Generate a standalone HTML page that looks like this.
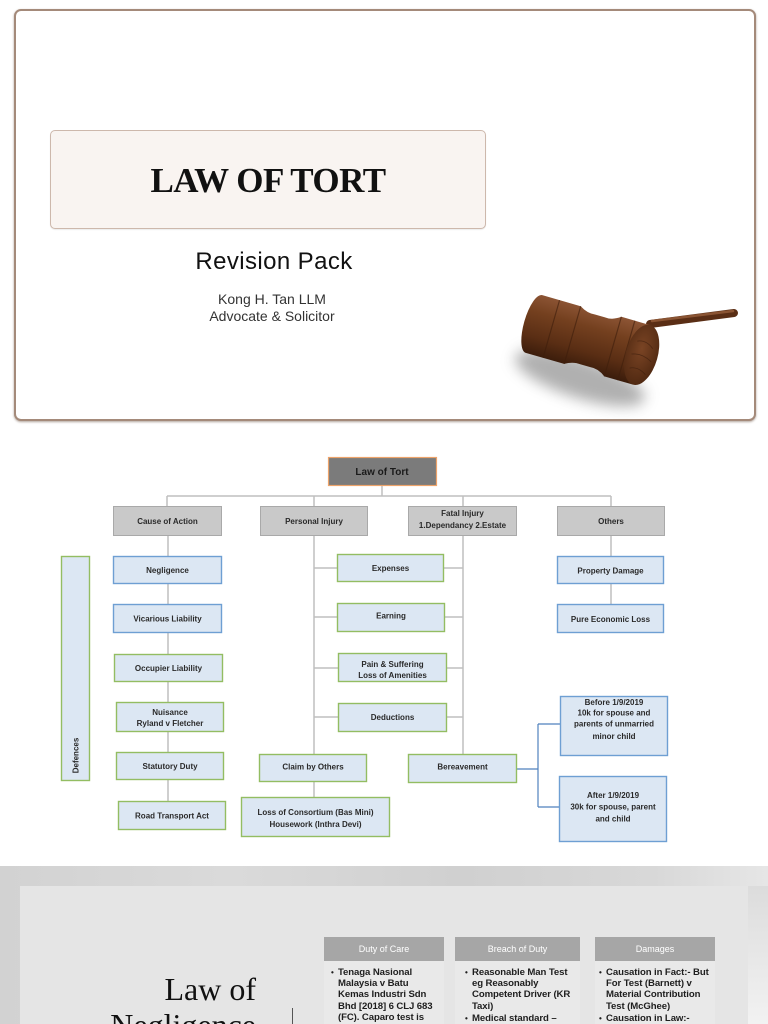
<!DOCTYPE html>
<html>
<head>
<meta charset="utf-8">
<style>
  html,body{margin:0;padding:0;background:#fff;}
  #root{position:relative;width:768px;height:1024px;overflow:hidden;background:#fff;font-family:"Liberation Sans",sans-serif;}
  .abs{position:absolute;}
  .frame{left:14px;top:9px;width:738px;height:408px;border:2px solid #a48a7a;border-radius:7px;box-shadow:0 1px 2px rgba(80,50,30,.45);background:#fff;}
  .titlebox{left:50px;top:130px;width:434px;height:97px;border:1px solid #cdb8ac;border-radius:5px;background:#f9f4f1;box-shadow:0 1px 1px rgba(0,0,0,.08);}
  .title{left:50px;top:131px;width:436px;height:99px;text-align:center;line-height:99px;font-family:"Liberation Serif",serif;font-weight:bold;font-size:35px;color:#111;letter-spacing:-0.5px;}
  .rev{left:74px;top:248px;width:400px;text-align:center;font-size:24px;color:#111;letter-spacing:0.4px;}
  .kong{left:72px;top:291px;width:400px;text-align:center;font-size:14px;line-height:17px;color:#333;}
  .bot{left:0;top:866px;width:768px;height:158px;background:linear-gradient(90deg,#d2d2d2 0%,#dadada 30%,#d0d0d0 60%,#d8d8d8 85%,#e6e6e6 100%);}
  .inner{left:20px;top:886px;width:728px;height:138px;background:#e5e5e5;}
  .rstrip{left:748px;top:886px;width:20px;height:138px;background:linear-gradient(180deg,#dcdcdc,#f2f2f2);}
  .hdr{height:24px;line-height:24px;background:#a6a6a6;color:#fff;font-size:9px;text-align:center;}
  .colbody{background:#e9e9e9;}
  .bul{font-size:9.6px;font-weight:bold;color:#1e1e1e;line-height:11.2px;white-space:nowrap;letter-spacing:-0.1px;}
  .bul .b{position:absolute;left:-7px;font-size:8px;}
  .law{font-family:"Liberation Serif",serif;font-size:32px;line-height:36px;color:#111;text-align:right;}
</style>
</head>
<body>
<div id="root">
  <!-- Slide 1 -->
  <div class="abs frame"></div>
  <div class="abs titlebox"></div>
  <div class="abs title">LAW OF TORT</div>
  <div class="abs rev">Revision Pack</div>
  <div class="abs kong">Kong H. Tan LLM<br>Advocate &amp; Solicitor</div>

  <!-- Gavel -->
  <svg class="abs" style="left:500px;top:280px" width="262" height="140" viewBox="0 0 262 140">
    <defs>
      <filter id="bl" x="-50%" y="-50%" width="200%" height="200%"><feGaussianBlur stdDeviation="7"/></filter>
      <linearGradient id="wood" x1="0" y1="0" x2="0" y2="1">
        <stop offset="0" stop-color="#8d5535"/>
        <stop offset="0.3" stop-color="#74401f"/>
        <stop offset="0.7" stop-color="#5a2e14"/>
        <stop offset="1" stop-color="#3a1c0b"/>
      </linearGradient>
      <radialGradient id="face" cx="0.45" cy="0.4" r="0.7">
        <stop offset="0" stop-color="#7a4424"/>
        <stop offset="1" stop-color="#4a250f"/>
      </radialGradient>
    </defs>
    <ellipse cx="80" cy="98" rx="68" ry="20" transform="rotate(18 80 98)" fill="#707070" opacity="0.55" filter="url(#bl)"/>
    <line x1="150" y1="44" x2="234" y2="33" stroke="#5a2e15" stroke-width="8" stroke-linecap="round"/>
    <line x1="152" y1="41" x2="233" y2="31" stroke="#8a5433" stroke-width="2.5" stroke-linecap="round"/>
    <g transform="translate(34,44) rotate(16)">
      <path d="M0,-30 L40,-30 Q48,-25 56,-26 L66,-26 Q74,-25 82,-31 L112,-31 L112,31 L82,31 Q74,25 66,26 L56,26 Q48,25 40,30 L0,30 A10,30 0 0 1 0,-30 Z" fill="url(#wood)"/>
      <path d="M18,-30 L18,30 M40,-30 L40,30 M82,-31 L82,31 M96,-31 L96,31" stroke="#3e1e0c" stroke-width="1.2" opacity="0.6"/>
      <ellipse cx="112" cy="0" rx="16" ry="31" fill="url(#face)"/>
      <path d="M104,-12 Q112,-16 121,-9 M102,2 Q112,-2 123,4 M104,16 Q112,12 121,18" stroke="#3a1c0b" stroke-width="0.8" fill="none" opacity="0.6"/>
    </g>
  </svg>

  <!-- Diagram -->
  <svg class="abs" style="left:0;top:0" width="768" height="1024" viewBox="0 0 768 1024">
    <g stroke="#bfbfbf" stroke-width="1.5" fill="none">
      <line x1="382" y1="486" x2="382" y2="496"/>
      <line x1="167" y1="496" x2="611" y2="496"/>
      <line x1="167" y1="496" x2="167" y2="506"/>
      <line x1="314" y1="496" x2="314" y2="506"/>
      <line x1="463" y1="496" x2="463" y2="506"/>
      <line x1="611" y1="496" x2="611" y2="506"/>
      <line x1="168" y1="535" x2="168" y2="801"/>
      <line x1="314" y1="535" x2="314" y2="754"/>
      <line x1="314" y1="782" x2="314" y2="797"/>
      <line x1="314" y1="568" x2="337" y2="568"/>
      <line x1="314" y1="617" x2="337" y2="617"/>
      <line x1="314" y1="668" x2="338" y2="668"/>
      <line x1="314" y1="717" x2="338" y2="717"/>
      <line x1="463" y1="535" x2="463" y2="754"/>
      <line x1="444" y1="568" x2="463" y2="568"/>
      <line x1="445" y1="617" x2="463" y2="617"/>
      <line x1="447" y1="668" x2="463" y2="668"/>
      <line x1="447" y1="717" x2="463" y2="717"/>
      <line x1="611" y1="535" x2="611" y2="604"/>
    </g>
    <g stroke="#4f81bd" stroke-width="1.2" fill="none">
      <line x1="517" y1="769" x2="538" y2="769"/>
      <line x1="538" y1="724" x2="538" y2="807"/>
      <line x1="538" y1="724" x2="560" y2="724"/>
      <line x1="538" y1="807" x2="559" y2="807"/>
    </g>

    <!-- boxes -->
    <rect x="328.5" y="457.5" width="108" height="28" fill="#7b7b7b" stroke="#eda36a" stroke-width="1.2"/>
    <g fill="#c9c9c9" stroke="#a9a9a9" stroke-width="1">
      <rect x="113.5" y="506.5" width="108" height="29"/>
      <rect x="260.5" y="506.5" width="107" height="29"/>
      <rect x="408.5" y="506.5" width="108" height="29"/>
      <rect x="557.5" y="506.5" width="107" height="29"/>
    </g>
    <g fill="#dce7f3" stroke="#6e9fd3" stroke-width="1.4">
      <rect x="113.5" y="556.5" width="108" height="27"/>
      <rect x="113.5" y="604.5" width="108" height="28"/>
      <rect x="557.5" y="556.5" width="106" height="27"/>
      <rect x="557.5" y="604.5" width="106" height="28"/>
      <rect x="560.5" y="696.5" width="107" height="59"/>
      <rect x="559.5" y="776.5" width="107" height="65"/>
    </g>
    <g fill="#dce7f3" stroke="#93bd62" stroke-width="1.4">
      <rect x="61.5" y="556.5" width="28" height="224"/>
      <rect x="114.5" y="654.5" width="108" height="27"/>
      <rect x="116.5" y="702.5" width="107" height="29"/>
      <rect x="116.5" y="752.5" width="107" height="27"/>
      <rect x="118.5" y="801.5" width="107" height="28"/>
      <rect x="337.5" y="554.5" width="106" height="27"/>
      <rect x="337.5" y="603.5" width="107" height="28"/>
      <rect x="338.5" y="653.5" width="108" height="28"/>
      <rect x="338.5" y="703.5" width="108" height="28"/>
      <rect x="259.5" y="754.5" width="107" height="27"/>
      <rect x="241.5" y="797.5" width="148" height="39"/>
      <rect x="408.5" y="754.5" width="108" height="28"/>
    </g>

    <g font-family="Liberation Sans, sans-serif" font-weight="bold" font-size="8" fill="#2a2a2a" text-anchor="middle">
      <text x="382" y="475" font-size="10" fill="#1a1a1a">Law of Tort</text>
      <text x="167.5" y="524">Cause of Action</text>
      <text x="314" y="524">Personal Injury</text>
      <text x="462.5" y="516">Fatal Injury</text>
      <text x="462.5" y="528">1.Dependancy 2.Estate</text>
      <text x="611" y="524">Others</text>
      <text x="167.5" y="573">Negligence</text>
      <text x="167.5" y="621.5">Vicarious Liability</text>
      <text x="168.5" y="671">Occupier Liability</text>
      <text x="170" y="715">Nuisance</text>
      <text x="170" y="726">Ryland v Fletcher</text>
      <text x="170" y="769">Statutory Duty</text>
      <text x="172" y="818.5">Road Transport Act</text>
      <text transform="translate(78.5,755.5) rotate(-90)">Defences</text>
      <text x="390.5" y="571">Expenses</text>
      <text x="391" y="618.5">Earning</text>
      <text x="392.5" y="667">Pain &amp; Suffering</text>
      <text x="392.5" y="678">Loss of Amenities</text>
      <text x="392.5" y="720">Deductions</text>
      <text x="313" y="769.5">Claim by Others</text>
      <text x="315.5" y="815">Loss of Consortium (Bas Mini)</text>
      <text x="315.5" y="827">Housework (Inthra Devi)</text>
      <text x="462.5" y="769.5">Bereavement</text>
      <text x="614" y="705">Before 1/9/2019</text>
      <text x="614" y="715.6">10k for spouse and</text>
      <text x="614" y="726.5">parents of unmarried</text>
      <text x="614" y="738.8">minor child</text>
      <text x="613" y="798">After 1/9/2019</text>
      <text x="613" y="809.7">30k for spouse, parent</text>
      <text x="613" y="821.3">and child</text>
      <text x="610.5" y="573.5">Property Damage</text>
      <text x="610.5" y="622">Pure Economic Loss</text>
    </g>
  </svg>

  <!-- Slide 3 -->
  <div class="abs bot"></div>
  <div class="abs inner"></div>
  <div class="abs rstrip"></div>

  <div class="abs colbody" style="left:324px;top:961px;width:120px;height:63px;"></div>
  <div class="abs colbody" style="left:455px;top:961px;width:125px;height:63px;"></div>
  <div class="abs colbody" style="left:595px;top:961px;width:120px;height:63px;"></div>

  <div class="abs hdr" style="left:324px;top:937px;width:120px;">Duty of Care</div>
  <div class="abs hdr" style="left:455px;top:937px;width:125px;">Breach of Duty</div>
  <div class="abs hdr" style="left:595px;top:937px;width:120px;">Damages</div>

  <div class="abs bul" style="left:338px;top:967px;">
    <span class="b">•</span>Tenaga Nasional<br>Malaysia v Batu<br>Kemas Industri Sdn<br>Bhd [2018] 6 CLJ 683<br>(FC). Caparo test is
  </div>
  <div class="abs bul" style="left:472px;top:967px;">
    <span class="b">•</span>Reasonable Man Test<br>eg Reasonably<br>Competent Driver (KR<br>Taxi)<br><div style="margin-top:1px;position:relative"><span class="b" style="top:0">•</span>Medical standard –</div>
  </div>
  <div class="abs bul" style="left:606px;top:967px;">
    <span class="b">•</span>Causation in Fact:- But<br>For Test (Barnett) v<br>Material Contribution<br>Test (McGhee)<br><div style="margin-top:1px;position:relative"><span class="b" style="top:0">•</span>Causation in Law:-</div>
  </div>

  <div class="abs law" style="left:60px;top:971px;width:196px;">Law of<br>Negligence</div>
  <div class="abs" style="left:292px;top:1008px;width:1px;height:16px;background:#555;"></div>
</div>
</body>
</html>
